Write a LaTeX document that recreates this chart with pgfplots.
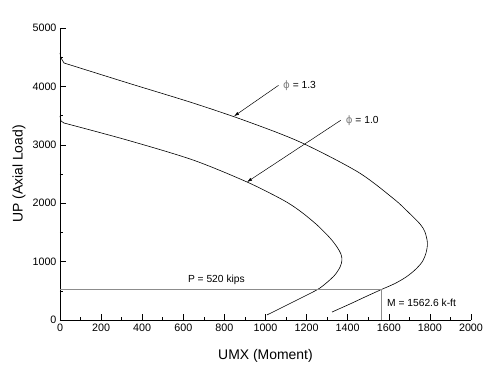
\documentclass[border=0pt]{standalone}
\usepackage{pgfplots}
\pgfplotsset{compat=1.18}
\usepackage{fontspec}
\setmainfont{Liberation Sans}
\newfontfamily\phifont{DejaVu Sans}
\usetikzlibrary{arrows.meta}
\definecolor{pline}{RGB}{140,140,140}
\begin{document}
\begin{tikzpicture}
\useasboundingbox (-60bp,-57bp) rectangle (436bp,320bp);
\begin{axis}[
  scale only axis, width=411bp, height=292bp,
  xmin=0, xmax=2000, ymin=0, ymax=5000,
  axis x line*=bottom, axis y line*=left,
  axis line style={-, line width=0.6pt},
  tick align=inside,
  xtick={0,200,...,2000}, ytick={0,1000,...,5000},
  minor x tick num=1, minor y tick num=1,
  major tick length=6bp, minor tick length=3.5bp,
  tick style={black, line width=0.6pt},
  ticklabel style={font=\fontsize{10.8}{12}\selectfont},
  /pgf/number format/assume math mode=true,
  /pgf/number format/1000 sep={},
  xlabel={UMX (Moment)}, ylabel={UP (Axial Load)},
  label style={font=\fontsize{14}{16}\selectfont},
  xlabel style={at={(axis description cs:0.5,-0.089)}, anchor=north},
  ylabel style={at={(axis description cs:-0.0998,0.5)}, anchor=center},
  clip=false,
]
% phi = 1.3
\addplot[black, line width=0.6pt] coordinates {(0,4572) (5,4486) (19.5,4401)};
\addplot[black, line width=0.6pt, smooth] coordinates {
(19.5,4401) (331,4058) (647,3716) (905,3408) (1168,3048) (1450,2534)
(1625,2072) (1694,1849) (1752,1644) (1776,1507) (1788,1318) (1781,1147) (1762,993) (1727,856)
(1684,736) (1630,625) (1562.6,520) (1484,394) (1411,274) (1324,137)};
% phi = 1.0
\addplot[black, line width=0.6pt] coordinates {(0,3493) (5,3408) (19.5,3373)};
\addplot[black, line width=0.6pt, smooth] coordinates {
(19.5,3373) (326,3082) (647,2740) (910,2363) (1085,2055) (1168,1866)
(1251,1627) (1314,1404) (1348,1250) (1367,1130) (1372,1027) (1363,908)
(1333,753) (1265,548) (1187,402) (1105,257) (1007,86)};
% P and M lines
\addplot[pline, line width=1.1pt] coordinates {(0,520) (1562.6,520) (1562.6,0)};
% annotations
\draw[-{Latex[length=5bp,width=3.2bp]}, line width=0.5pt] (axis cs:1063,4017) -- (axis cs:847,3490);
\draw[-{Latex[length=5bp,width=3.2bp]}, line width=0.5pt] (axis cs:1366,3419) -- (axis cs:910,2363);
\node[anchor=west, inner sep=0pt, font=\fontsize{10.3}{12}\selectfont] at (axis cs:1085,4017) {{\phifont\color{gray}ϕ} = 1.3};
\node[anchor=west, inner sep=0pt, font=\fontsize{10.3}{12}\selectfont] at (axis cs:1390,3419) {{\phifont\color{gray}ϕ} = 1.0};
\node[inner sep=0pt, font=\fontsize{10.3}{12}\selectfont] at (axis cs:761,684) {P = 520 kips};
\node[anchor=west, inner sep=0pt, font=\fontsize{10.3}{12}\selectfont] at (axis cs:1591,291) {M = 1562.6 k-ft};
\end{axis}
\end{tikzpicture}
\end{document}
